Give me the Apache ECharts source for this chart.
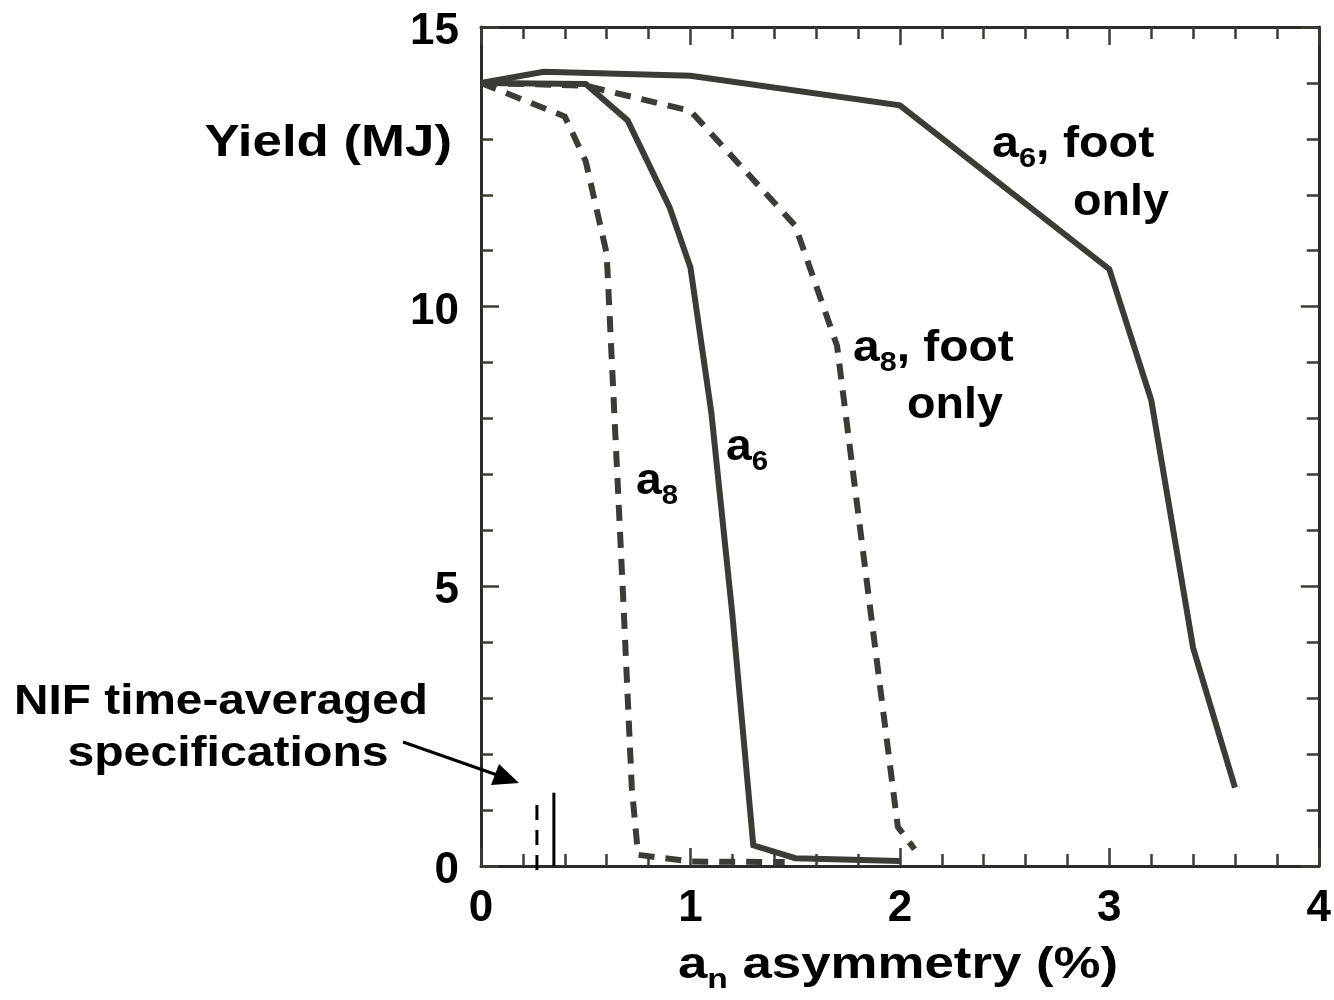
<!DOCTYPE html>
<html>
<head>
<meta charset="utf-8">
<script src="https://cdn.jsdelivr.net/npm/echarts@6/dist/echarts.min.js"></script>
<style>
  html, body { margin: 0; padding: 0; background: #fff; }
  #chart { width: 1334px; height: 1000px; }
</style>
</head>
<body>
<div id="chart"></div>
<script>
// Axis ticks
const xTicks = [0, 1, 2, 3, 4];
const yTicks = [0, 5, 10, 15];

// Yield (MJ) versus mode amplitude (%) for each perturbation case
const a6FootOnly = [[0, 14.0], [0.3, 14.2], [1.0, 14.13], [2.0, 13.6], [3.0, 10.67], [3.2, 8.33], [3.4, 3.9], [3.6, 1.4]];
const a6All = [[0, 14.0], [0.5, 13.98], [0.7, 13.33], [0.9, 11.78], [1.0, 10.7], [1.1, 8.1], [1.2, 4.5], [1.3, 0.37], [1.5, 0.14], [2.0, 0.09]];
const a8All = [[0, 14.0], [0.4, 13.4], [0.5, 12.6], [0.6, 10.95], [0.68, 4.7], [0.72, 1.4], [0.75, 0.2], [1.0, 0.08], [1.45, 0.07]];
const a8FootOnly = [[0, 14.0], [0.5, 13.95], [1.0, 13.5], [1.5, 11.45], [1.7, 9.3], [1.99, 0.7], [2.07, 0.3]];

// NIF time-averaged specification markers
const specA8 = [[0.267, -0.07], [0.267, 1.16]];
const specA6 = [[0.348, 0], [0.348, 1.31]];

const FONT = '"Liberation Sans", Arial, Helvetica, sans-serif';
const INK = '#3b3c35';
const subRich = {
  b: { fontSize: 44, fontWeight: 'bold', fontFamily: FONT, lineHeight: 56, fill: '#000', color: '#000' },
  s: { fontSize: 28, fontWeight: 'bold', fontFamily: FONT, lineHeight: 20, verticalAlign: 'bottom', fill: '#000', color: '#000' }
};

function axisCommon(showLabel, splitNum) {
  return {
    axisLine: { show: true, onZero: false, lineStyle: { color: '#2b2b2b', width: 3 } },
    axisTick: { show: true, inside: true, length: 18, lineStyle: { color: INK, width: 2.5 } },
    minorTick: { show: true, splitNumber: splitNum, length: 12, lineStyle: { color: INK, width: 2.5 } },
    splitLine: { show: false },
    axisLabel: {
      show: showLabel, color: '#000', fontSize: 44, fontWeight: 'bold', fontFamily: FONT
    }
  };
}

function xAxis(pos, showLabel) {
  const a = axisCommon(showLabel, 5);
  a.axisLabel.margin = 21;
  return Object.assign({
    type: 'value', position: pos,
    min: xTicks[0], max: xTicks[xTicks.length - 1], interval: 1
  }, a);
}
function yAxis(pos, showLabel) {
  const a = axisCommon(showLabel, 5);
  a.axisLabel.margin = 22;
  // numbers sit slightly below their tick
  a.axisLabel.verticalAlign = 'top';
  a.axisLabel.lineHeight = 10;
  return Object.assign({
    type: 'value', position: pos,
    min: yTicks[0], max: yTicks[yTicks.length - 1], interval: 5
  }, a);
}

function curve(data, dashed) {
  return {
    type: 'line', data: data, showSymbol: false, symbol: 'none',
    xAxisIndex: 0, yAxisIndex: 0,
    lineStyle: { color: INK, width: 6, type: dashed ? [16, 11] : 'solid', cap: 'butt', join: 'miter' },
    z: 3
  };
}
function marker(data, dashed) {
  return {
    type: 'line', data: data, showSymbol: false, symbol: 'none', clip: false,
    xAxisIndex: 0, yAxisIndex: 0,
    lineStyle: { color: '#000', width: 3, type: dashed ? [15, 10] : 'solid', cap: 'butt' },
    z: 4
  };
}

function label(x, y, text, sx) {
  return {
    type: 'text', x: x, y: y, z: 10, scaleX: sx, originX: 0,
    style: {
      text: text, rich: subRich, fill: '#000',
      fontSize: 44, fontWeight: 'bold', fontFamily: FONT,
      align: 'left', verticalAlign: 'middle'
    }
  };
}
function plain(x, y, text, size, align, sx) {
  return {
    type: 'text', x: x, y: y, z: 10, scaleX: sx, originX: 0,
    style: { text: text, fill: '#000', fontSize: size, fontWeight: 'bold', fontFamily: FONT, align: align, verticalAlign: 'middle' }
  };
}

const chart = echarts.init(document.getElementById('chart'), null, { renderer: 'canvas' });
chart.setOption({
  animation: false,
  backgroundColor: '#fff',
  grid: { left: 481, right: 14, top: 27, bottom: 134, containLabel: false },
  xAxis: [xAxis('bottom', true), xAxis('top', false)],
  yAxis: [yAxis('left', true), yAxis('right', false)],
  series: [
    curve(a6FootOnly, false),
    curve(a6All, false),
    curve(a8All, true),
    curve(a8FootOnly, true),
    marker(specA8, true),
    marker(specA6, false)
  ],
  graphic: [
    // axis titles
    plain(452, 144, 'Yield (MJ)', 44, 'right', 1.2),
    { type: 'text', x: 898, y: 966, scaleX: 1.2, originX: 0, z: 10,
      style: { text: '{b|a}{s|n}{b| asymmetry (%)}', rich: subRich, align: 'center', verticalAlign: 'middle' } },
    // curve labels
    label(992, 145, '{b|a}{s|6}{b|, foot}', 1.1),
    label(1073, 203, '{b|only}', 1.06),
    label(853, 349, '{b|a}{s|8}{b|, foot}', 1.09),
    label(907, 406, '{b|only}', 1.06),
    label(636, 482, '{b|a}{s|8}', 1.05),
    label(726, 448, '{b|a}{s|6}', 1.05),
    // specification annotation
    plain(221, 702, 'NIF time-averaged', 43, 'center', 1.11),
    plain(228, 754, 'specifications', 43, 'center', 1.12),
    { type: 'line', z: 10, shape: { x1: 403, y1: 742, x2: 500, y2: 776 }, style: { stroke: '#000', lineWidth: 3 } },
    { type: 'polygon', z: 10, shape: { points: [[519, 783], [491, 785], [499, 764]] }, style: { fill: '#000' } }
  ]
});
</script>
</body>
</html>
